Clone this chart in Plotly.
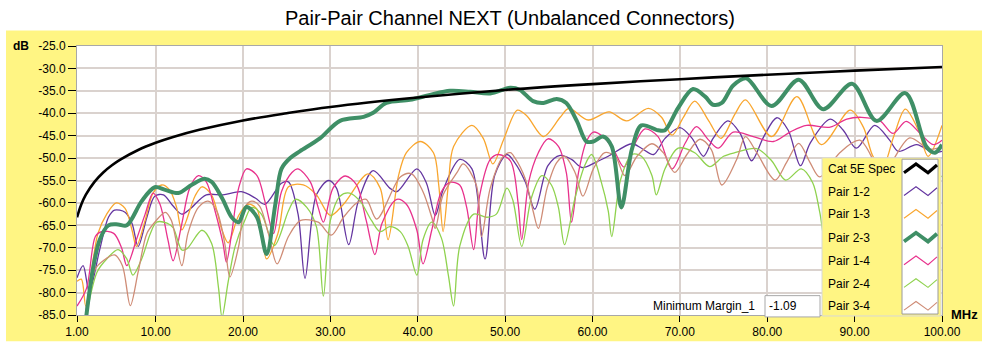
import plotly.graph_objects as go

# ---------------- data ----------------
spec_x = [1, 1.5, 2, 3, 4, 5, 6, 8, 10, 12, 15, 20, 25, 30, 40, 50, 60, 70, 80, 90, 100]
spec_y = [-63.2, -60.3, -58.2, -55.3, -53.2, -51.6, -50.3, -48.2, -46.6, -45.3, -43.7, -41.6,
          -40.0, -38.6, -36.5, -34.8, -33.5, -32.4, -31.4, -30.5, -29.7]

p12_x = [1.0, 1.7, 2.4, 3.6, 4.6, 5.3, 6.5, 7.3, 8.0, 9.0, 9.9, 10.9, 12.0, 13.0, 13.9, 15.8, 17.7,
         19.8, 21.4, 22.5, 24.4, 25.2, 26.3, 27.1, 28.4, 29.8, 30.7, 32.1, 33.2, 34.9, 36.8, 37.6,
         39.9, 41.0, 42.0, 42.9, 44.8, 46.2, 47.7, 48.8, 50.2, 51.1, 52.3, 53.4, 54.9, 56.3, 57.6,
         58.8, 60.3, 61.8, 64.5, 65.6, 67.0, 68.3, 70.0, 71.4, 72.7, 73.8, 75.5, 76.9, 78.2, 79.6,
         81.1, 82.4, 83.8, 84.9, 87.2, 88.7, 90.2, 92.3, 94.0, 95.0, 97.1, 99.0, 100]
p12_y = [-76.7, -74.0, -79.7, -70.4, -63.2, -61.6, -62.1, -64.6, -69.7, -63.2, -58.5, -58.2, -60.7,
         -62.5, -61.4, -58.2, -58.2, -57.5, -58.9, -60.3, -55.6, -55.3, -62.5, -76.8, -58.2, -55.0,
         -56.7, -69.3, -59.6, -52.8, -56.7, -57.5, -52.4, -55.6, -62.8, -57.1, -50.3, -52.4, -72.5,
         -53.9, -49.2, -51.0, -55.3, -61.4, -51.7, -49.4, -50.3, -52.1, -51.0, -49.6, -46.8, -47.8,
         -49.2, -45.6, -43.2, -45.6, -49.6, -45.6, -41.7, -44.5, -50.6, -45.2, -41.0, -43.8, -51.7,
         -46.7, -41.3, -43.8, -47.8, -42.7, -46.0, -48.5, -47.0, -48.8, -48.5]

p13_x = [1.0, 1.5, 2.0, 2.9, 3.4, 4.4, 5.5, 6.5, 7.3, 7.8, 8.8, 9.7, 10.7, 11.6, 12.4, 13.0, 14.5,
         15.3, 16.4, 17.6, 18.3, 19.5, 20.6, 21.6, 22.7, 24.0, 25.2, 26.9, 28.4, 30.0, 31.5, 34.3,
         35.7, 36.6, 37.8, 38.7, 40.3, 41.8, 42.4, 42.9, 43.5, 44.1, 46.2, 47.5, 48.6, 49.8, 51.4,
         52.5, 54.4, 56.3, 57.3, 59.5, 61.9, 63.9, 66.4, 67.9, 69.1, 70.4, 71.7, 73.3, 74.7, 76.3,
         77.5, 80.5, 83.4, 86.2, 89.5, 91.0, 92.1, 93.2, 94.5, 95.8, 97.3, 98.4, 100]
p13_y = [-77.5, -77.0, -83.0, -72.0, -66.8, -62.5, -60.0, -61.2, -66.1, -69.7, -63.9, -57.8, -56.0,
         -57.1, -61.0, -66.0, -58.5, -56.4, -58.2, -66.1, -68.9, -62.8, -60.3, -61.4, -72.5, -66.8,
         -56.4, -56.0, -58.2, -62.8, -60.3, -53.5, -56.7, -68.2, -53.9, -48.8, -46.3, -48.8, -56.0,
         -66.4, -56.0, -47.4, -42.7, -45.6, -51.3, -46.0, -39.3, -40.6, -45.2, -40.9, -38.9, -41.5,
         -39.7, -41.7, -38.9, -40.9, -44.9, -40.9, -37.3, -41.7, -45.6, -40.2, -37.0, -45.2, -36.3,
         -47.0, -39.3, -43.1, -49.6, -52.0, -45.0, -39.1, -43.8, -49.6, -42.7]

p23_x = [1.8, 2.1, 2.8, 3.6, 4.6, 5.7, 6.7, 8.4, 9.9, 11.1, 12.6, 14.1, 15.6, 16.4, 17.6, 18.7, 19.5,
         20.4, 21.6, 22.7, 23.7, 24.4, 25.4, 26.5, 28.8, 31.1, 33.8, 34.9, 36.4, 39.1, 41.4, 43.7,
         46.0, 48.3, 50.6, 51.7, 53.2, 54.4, 55.9, 57.0, 58.2, 59.3, 60.1, 61.2, 62.2, 63.3, 64.5,
         65.6, 67.5, 68.3, 69.8, 71.5, 72.9, 73.8, 74.8, 76.1, 77.6, 80.5, 83.6, 86.4, 89.7, 92.5,
         95.8, 98.2, 99.2, 100]
p23_y = [-90.0, -84.7, -75.0, -68.2, -65.0, -64.8, -65.0, -59.6, -56.5, -57.1, -57.8, -56.0, -54.6,
         -55.3, -58.9, -63.2, -64.3, -60.9, -63.2, -71.4, -60.3, -52.4, -50.0, -48.5, -45.6, -41.7,
         -40.8, -39.9, -37.7, -37.0, -35.9, -35.0, -35.2, -35.6, -34.3, -34.8, -37.3, -37.7, -36.8,
         -37.7, -41.7, -46.3, -46.3, -45.2, -47.4, -61.0, -48.1, -42.7, -43.8, -43.8, -38.8, -34.6,
         -36.3, -38.1, -37.7, -33.8, -32.2, -38.4, -32.5, -39.1, -33.4, -41.7, -35.5, -47.4, -48.8,
         -47.0]

p14_x = [1.0, 2.1, 3.1, 3.8, 5.2, 6.1, 6.7, 7.8, 8.8, 9.7, 10.5, 11.4, 12.0, 13.0, 13.9, 14.9, 15.8,
         16.8, 17.7, 18.1, 18.7, 19.5, 20.4, 21.6, 22.5, 23.5, 24.4, 25.6, 26.3, 27.7, 28.6, 29.2,
         30.3, 31.7, 33.0, 34.1, 35.1, 35.9, 37.6, 38.7, 39.9, 40.6, 41.6, 42.7, 43.7, 44.8, 45.6,
         46.4, 47.1, 48.3, 49.2, 50.6, 51.5, 51.9, 52.7, 53.8, 54.9, 56.1, 57.0, 57.6, 58.4, 59.3,
         60.1, 61.2, 62.4, 63.6, 64.8, 66.0, 67.5, 69.1, 70.6, 71.9, 73.3, 74.4, 76.1, 78.4, 80.7,
         82.6, 84.5, 87.2, 89.1, 90.8, 92.9, 94.4, 95.9, 97.5, 99.0, 100]
p14_y = [-83.0, -79.0, -67.5, -66.4, -66.8, -70.0, -74.0, -68.2, -62.5, -57.8, -60.3, -68.2, -72.9,
         -64.6, -56.7, -53.9, -55.3, -61.8, -68.9, -73.2, -66.8, -56.7, -52.4, -53.9, -59.6, -66.8,
         -57.5, -53.2, -52.4, -55.3, -61.0, -64.3, -56.7, -54.0, -56.0, -63.9, -71.5, -64.6, -59.2,
         -60.3, -66.1, -73.6, -66.1, -57.5, -55.4, -56.0, -61.0, -70.4, -58.2, -50.3, -49.2, -50.6,
         -60.3, -68.2, -55.3, -48.8, -45.7, -47.4, -53.2, -64.3, -53.2, -46.3, -44.2, -45.2, -48.1,
         -52.0, -47.0, -43.5, -45.2, -52.4, -46.7, -43.0, -46.0, -47.8, -44.2, -45.2, -46.3, -44.2,
         -42.7, -43.1, -41.3, -40.9, -41.7, -44.5, -41.8, -44.5, -47.0, -46.0]

p24_x = [1.6, 2.1, 3.3, 4.4, 5.7, 6.7, 7.4, 8.4, 9.4, 10.1, 11.3, 12.0, 13.0, 13.6, 15.3, 16.4, 17.2,
         17.6, 18.3, 19.1, 20.2, 21.0, 22.1, 23.6, 25.2, 26.0, 27.3, 28.4, 29.2, 30.0, 31.1, 32.2,
         33.4, 34.7, 35.7, 36.8, 38.0, 38.9, 39.9, 40.6, 41.6, 42.7, 43.5, 44.1, 44.8, 46.4, 47.9,
         49.0, 50.2, 50.9, 51.9, 53.0, 54.2, 55.3, 56.1, 56.8, 58.0, 59.1, 59.9, 61.0, 61.8, 62.2,
         63.2, 64.5, 65.6, 66.8, 67.3, 68.3, 69.8, 71.7, 73.4, 75.0, 76.3, 78.8, 80.5, 82.1, 83.9,
         85.2, 86.0, 87.0, 90.0, 93.0, 96.0, 100]
p24_y = [-90.0, -84.7, -75.4, -72.5, -70.4, -72.5, -76.1, -72.5, -66.8, -64.3, -64.5, -65.5, -70.5,
         -70.2, -66.1, -69.0, -79.0, -85.5, -77.6, -69.7, -63.9, -61.0, -62.5, -69.5, -61.8, -59.2,
         -61.0, -65.3, -80.8, -63.9, -58.5, -57.8, -59.6, -63.9, -66.4, -65.3, -66.4, -69.7, -76.1,
         -68.2, -64.3, -67.8, -76.1, -83.0, -69.7, -62.5, -63.2, -62.5, -56.7, -59.5, -69.7, -58.9,
         -53.9, -56.0, -61.0, -69.3, -58.9, -51.7, -49.2, -55.3, -61.8, -67.5, -54.9, -49.2, -49.6,
         -53.9, -58.2, -52.4, -47.8, -48.8, -51.9, -49.6, -48.8, -47.9, -50.6, -54.9, -52.4, -55.5,
         -62.0, -72.0, -80.0, -70.0, -60.0, -54.0]

p34_x = [2.0, 3.1, 4.0, 5.3, 6.2, 7.1, 8.0, 9.0, 9.9, 11.1, 11.8, 13.0, 13.7, 14.9, 16.0, 17.0, 17.9,
         18.5, 19.5, 20.2, 21.0, 21.9, 22.9, 23.9, 25.2, 26.6, 28.6, 30.1, 31.5, 33.0, 34.1, 35.3,
         38.0, 39.3, 40.6, 41.6, 42.0, 42.9, 44.5, 45.2, 46.7, 47.3, 48.3, 49.8, 50.6, 51.1, 52.3,
         53.2, 53.8, 54.8, 55.9, 56.8, 58.0, 58.9, 60.1, 61.4, 62.6, 63.7, 65.1, 66.8, 68.1, 69.4,
         70.8, 72.3, 73.6, 74.8, 76.5, 77.5, 78.8, 80.9, 82.2, 83.6, 84.9, 86.0, 88.3, 90.6, 93.2,
         96.3, 98.5, 100]
p34_y = [-84.0, -74.7, -72.9, -71.6, -74.0, -82.9, -75.4, -66.8, -64.3, -62.1, -63.9, -74.0, -66.8,
         -61.0, -59.6, -61.8, -68.9, -76.5, -69.7, -61.0, -59.6, -60.7, -66.8, -73.6, -67.5, -63.9,
         -64.3, -67.2, -63.2, -60.0, -59.2, -63.6, -54.2, -53.5, -57.5, -63.2, -65.7, -58.2, -53.2,
         -51.3, -56.0, -67.5, -56.7, -49.6, -48.8, -49.9, -54.6, -61.8, -65.7, -56.7, -51.0, -49.6,
         -53.2, -58.5, -52.4, -48.8, -49.6, -53.9, -49.6, -46.8, -48.8, -53.2, -49.2, -45.8, -48.1,
         -56.0, -50.3, -45.2, -48.8, -54.9, -51.0, -46.7, -51.0, -54.2, -48.8, -46.0, -53.0, -45.5,
         -48.0, -47.5]

x_ticks = [1, 10, 20, 30, 40, 50, 60, 70, 80, 90, 100]
x_tick_text = ["1.00", "10.00", "20.00", "30.00", "40.00", "50.00", "60.00", "70.00", "80.00",
               "90.00", "100.00"]
y_ticks = [-25, -30, -35, -40, -45, -50, -55, -60, -65, -70, -75, -80, -85]

series_names = ["Cat 5E Spec", "Pair 1-2", "Pair 1-3", "Pair 2-3", "Pair 1-4", "Pair 2-4", "Pair 3-4"]
series_colors = ["#000000", "#6435a0", "#f9a62e", "#3f8f66", "#e8318c", "#8fd24e", "#cf8c76"]
series_widths = [2.6, 1.3, 1.3, 4.0, 1.3, 1.3, 1.3]
margin_label = "Minimum Margin_1"
margin_value = "-1.09"

# ---------------- geometry helpers ----------------
W, H = 982, 351
ML, MR, MT, MB = 77, 40, 46, 27
PW, PH = W - ML - MR, H - MT - MB
YELLOW = "#fff583"
FONT = "Liberation Sans, Arial, sans-serif"


def fx(p):
    return (p - ML) / PW


def fy(p):
    return (H - MB - p) / PH


fig = go.Figure()
data = [(spec_x, spec_y), (p12_x, p12_y), (p13_x, p13_y), (p23_x, p23_y),
        (p14_x, p14_y), (p24_x, p24_y), (p34_x, p34_y)]
order = [1, 2, 4, 5, 6, 3, 0]
for i in order:
    xs, ys = data[i]
    fig.add_trace(go.Scatter(
        x=xs, y=ys, mode="lines", name=series_names[i],
        line=dict(color=series_colors[i], width=series_widths[i],
                  shape="spline", smoothing=0.9 if i else 1.0),
        showlegend=False, hoverinfo="skip"))

shapes = [
    dict(type="rect", xref="paper", yref="paper", x0=fx(6), x1=fx(982), y0=fy(351), y1=fy(30),
         fillcolor=YELLOW, line=dict(width=0), layer="below"),
    dict(type="rect", xref="x domain", yref="y domain", x0=0, x1=1, y0=0, y1=1,
         fillcolor="white", line=dict(width=0), layer="below"),
    # legend box
    dict(type="rect", xref="paper", yref="paper", x0=fx(822), x1=fx(941), y0=fy(325), y1=fy(161.5),
         fillcolor=YELLOW, line=dict(color="#d8d8d8", width=1), layer="above"),
    dict(type="rect", xref="paper", yref="paper", x0=fx(902), x1=fx(938), y0=fy(323), y1=fy(163),
         fillcolor="white", line=dict(color="#9a9a9a", width=1), layer="above"),
    # minimum margin box
    dict(type="rect", xref="paper", yref="paper", x0=fx(765), x1=fx(820), y0=fy(326), y1=fy(304),
         fillcolor="white", line=dict(color="#a8a8a8", width=1), layer="above"),
]
annotations = []
leg_y = [173, 196.5, 220, 244, 268, 291.5, 315]
for k, name in enumerate(series_names):
    yc = leg_y[k]
    pts = [(904, yc + 4), (916, yc - 5), (928, yc + 4), (937, yc - 4)]
    path = "M " + " L ".join(f"{fx(a):.5f},{fy(b):.5f}" for a, b in pts)
    w = 3.2 if k == 0 else (3.8 if k == 3 else 1.1)
    shapes.append(dict(type="path", xref="paper", yref="paper", path=path,
                       line=dict(color=series_colors[k], width=w), layer="above"))
    annotations.append(dict(x=fx(826), y=fy(yc), xref="paper", yref="paper", text=name,
                            showarrow=False, xanchor="left", yanchor="middle",
                            font=dict(family=FONT, size=12, color="black")))

annotations += [
    dict(x=0.5, y=fy(17), xref="paper", yref="paper", text="Pair-Pair Channel NEXT (Unbalanced Connectors)",
         showarrow=False, xanchor="center", yanchor="middle",
         font=dict(family=FONT, size=20, color="black")),
    dict(x=fx(21), y=fy(46), xref="paper", yref="paper", text="<b>dB</b>", showarrow=False,
         xanchor="center", yanchor="middle", font=dict(family=FONT, size=12, color="black")),
    dict(x=fx(964), y=fy(323), xref="paper", yref="paper", text="<b>MHz</b>", showarrow=False,
         xanchor="center", yanchor="middle", font=dict(family=FONT, size=13, color="black")),
    dict(x=fx(757), y=fy(315), xref="paper", yref="paper", text=margin_label, showarrow=False,
         xanchor="right", yanchor="middle", font=dict(family=FONT, size=12, color="black")),
    dict(x=fx(767), y=fy(315), xref="paper", yref="paper", text=margin_value, showarrow=False,
         xanchor="left", yanchor="middle", font=dict(family=FONT, size=12, color="black")),
]

fig.update_layout(
    width=W, height=H, margin=dict(l=ML, r=MR, t=MT, b=MB, pad=0),
    paper_bgcolor="white", plot_bgcolor="white",
    shapes=shapes, annotations=annotations, showlegend=False,
    font=dict(family=FONT, size=12, color="black"),
    xaxis=dict(range=[1, 100], tickmode="array", tickvals=x_ticks, ticktext=x_tick_text,
               ticks="outside", ticklen=6, tickcolor="black", tickwidth=1,
               showgrid=True, gridcolor="#dad2ce", gridwidth=1.6, zeroline=False,
               showline=True, linecolor="#a8a8a8", linewidth=1, mirror=True,
               tickfont=dict(family=FONT, size=12, color="black")),
    yaxis=dict(range=[-85, -25], tickmode="array", tickvals=y_ticks,
               ticktext=[f"{v:.1f}" for v in y_ticks],
               ticks="outside", ticklen=8, tickcolor="black", tickwidth=1,
               showgrid=True, gridcolor="#dad2ce", gridwidth=1.6, zeroline=False,
               showline=True, linecolor="#a8a8a8", linewidth=1, mirror=True,
               tickfont=dict(family=FONT, size=12, color="black")),
)

fig.write_html("out.html")
